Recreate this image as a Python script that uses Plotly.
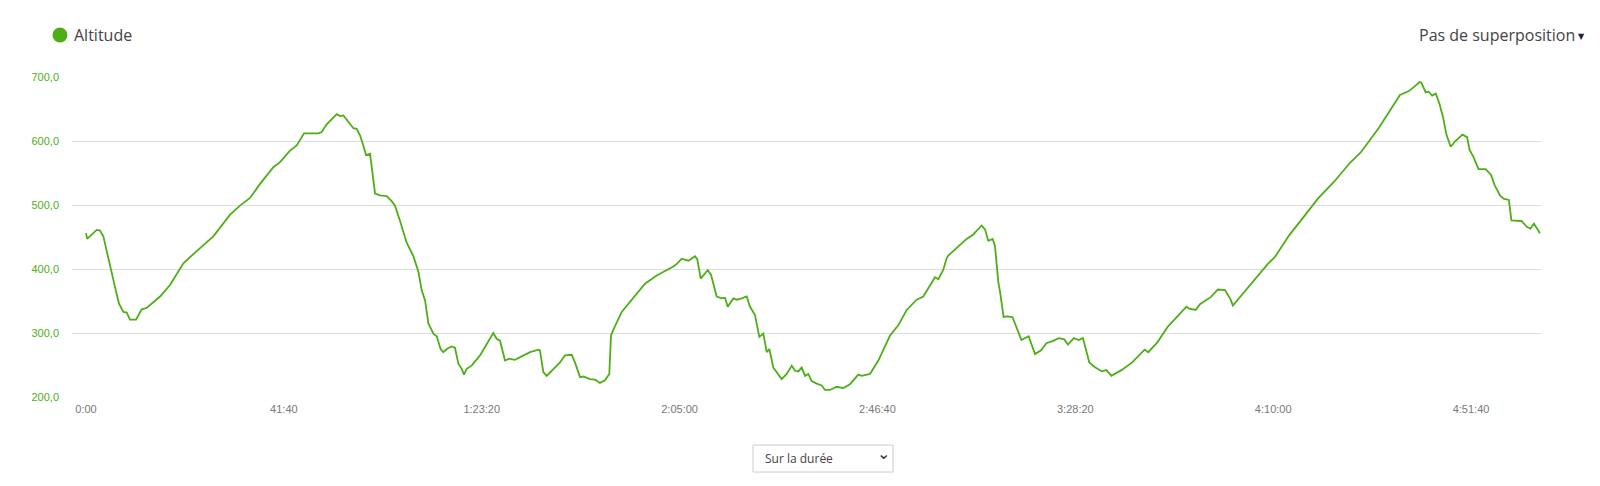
import plotly.graph_objects as go

# elapsed time (s) and altitude (m)
time_s = [
    0, 15, 135, 177, 219, 303, 366, 417, 472, 514, 556, 632, 703, 766, 935, 1061,
    1230, 1398, 1609, 1820, 1946, 2072, 2199, 2367, 2451, 2578, 2662, 2755, 2936,
    2978, 3041, 3168, 3210, 3252, 3336, 3378, 3420, 3462, 3504, 3538, 3589, 3610,
    3652, 3715, 3799, 3862, 3904, 3968, 4052, 4136, 4199, 4241, 4284, 4326, 4389,
    4431, 4481, 4515, 4557, 4620, 4662, 4705, 4747, 4776, 4810, 4873, 4978, 5146,
    5188, 5231, 5294, 5348, 5420,
    5610, 5715, 5736, 5778, 5821, 5904, 5989, 6052, 6137, 6178, 6242, 6283, 6368,
    6431, 6494, 6557, 6612, 6633, 6662, 6769, 6915, 7063, 7211, 7337, 7421, 7464,
    7527, 7611, 7695, 7724, 7767, 7855, 7897, 7969, 8032, 8074, 8108, 8179, 8222,
    8285, 8348, 8390, 8453, 8507, 8558, 8601, 8634, 8684, 8790, 8853, 8917, 8958,
    9000, 9043, 9085, 9126, 9169, 9232, 9296, 9337, 9400, 9485, 9568, 9653, 9758,
    9801, 9906, 10011, 10159, 10263, 10369, 10496, 10579, 10727, 10769, 10832,
    10875, 10895, 11021, 11127, 11211, 11317, 11359, 11400, 11456, 11485, 11527,
    11548,
    11594, 11638, 11706, 11752, 11819, 11910, 11991, 12067, 12135, 12226, 12293,
    12361, 12407, 12482, 12542, 12596, 12677, 12744, 12835, 12893, 12956, 13083,
    13218, 13376, 13421, 13534, 13670, 13904, 13940, 14021, 14075, 14211, 14302,
    14391, 14460, 14491, 14707, 14933, 15023, 15204, 15339, 15565, 15767, 15971,
    16106, 16332, 16602, 16715, 16783, 16850, 16873, 16927, 16964, 17008, 17054,
    17099, 17145, 17189, 17243, 17302, 17392, 17450, 17482, 17527, 17595, 17685,
    17753, 17798, 17866, 17911, 17978, 18010, 18137, 18205, 18250, 18294, 18340,
    18370,
]
altitude_m = [
    456, 447, 461, 460, 451, 404, 372, 346, 333, 332, 321, 321, 337, 339, 357, 375,
    409, 428, 451, 485, 499, 511, 533, 559, 567, 585, 593, 612, 612,
    614, 626, 642, 639, 640, 626, 620, 619, 609, 593, 578, 580, 562,
    518, 515, 514, 506, 499, 475, 441, 420, 396, 367, 351, 315, 299,
    295, 275, 270, 275, 279, 277, 252, 244, 235, 244, 249, 265, 300,
    291, 288, 257, 260, 258,
    270, 274, 273, 239, 233, 244, 254, 265, 266, 254, 231, 232, 228,
    227, 222, 226, 236, 296, 305, 333, 354, 377, 390, 398, 404, 408,
    416, 413, 420, 415, 385, 398, 391, 357, 354, 355, 341, 354, 352,
    354, 357, 341, 328, 294, 299, 270, 275, 246, 228, 236, 249, 241,
    240, 246, 233, 236, 225, 221, 218, 211, 211, 216, 214, 220, 235,
    233, 236, 257, 296, 312, 336, 352, 357, 387, 384, 399,
    417, 421, 436, 447, 454, 468, 462, 444, 447, 436, 380,
    365,
    325, 326, 325, 309, 289, 295, 267, 273, 284, 288, 292,
    290, 282, 292, 289, 292, 254, 247, 240, 242, 233, 242,
    254, 274, 270, 285, 310, 341, 338, 336, 345, 356, 368,
    367, 353, 343, 374, 408, 419, 453, 474, 510, 536, 566,
    582, 620, 672, 678, 685, 692, 691, 676, 677, 671, 674,
    659, 638, 610, 591, 600, 610, 606, 586, 576, 556, 556,
    547, 531, 515, 510, 508, 476, 475, 466, 463, 471, 462,
    456,
]

tick_vals = [0, 2500, 5000, 7500, 10000, 12500, 15000, 17500]
tick_text = ["0:00", "41:40", "1:23:20", "2:05:00", "2:46:40", "3:28:20", "4:10:00", "4:51:40"]

GREEN = "#4eae18"

fig = go.Figure(go.Scatter(
    x=time_s, y=altitude_m, mode="lines",
    line=dict(color=GREEN, width=1.8),
    hoverinfo="skip", showlegend=False,
))

# the page body adds an 8px margin, so the figure is a bit smaller than the window
fig.update_layout(
    width=1584, height=470,
    margin=dict(l=64, r=51, t=69, b=81),
    paper_bgcolor="white", plot_bgcolor="white",
    separators=", ",
    font=dict(family="Liberation Sans, Arial", size=11),
)
fig.update_xaxes(
    range=[-177, 18384], tickvals=tick_vals, ticktext=tick_text,
    showgrid=False, zeroline=False, showline=False, ticks="",
    tickfont=dict(color="#777777", size=11), ticklabelstandoff=4,
)
fig.update_yaxes(
    range=[200, 700], dtick=100, tick0=200, tickformat=".1f",
    showgrid=True, gridcolor="#dedede", gridwidth=1,
    zeroline=False, showline=False, ticks="",
    tickfont=dict(color=GREEN, size=11), ticklabelstandoff=12,
)

# legend-like header
fig.add_shape(type="circle", xref="paper", yref="paper",
              x0=-0.0133, x1=-0.0031, y0=1.1078, y1=1.1547,
              fillcolor=GREEN, line=dict(width=0))
fig.add_annotation(text="Altitude", xref="paper", yref="paper", x=0.0, y=1.131,
                   xanchor="left", yanchor="middle", showarrow=False,
                   font=dict(family="Open Sans", size=16, color="#444444"))
fig.add_annotation(text="Pas de superposition", xref="paper", yref="paper",
                   x=1.0 + (1577 - 1541) / 1469, y=1.131,
                   xanchor="right", yanchor="middle", showarrow=False,
                   font=dict(family="Open Sans", size=16, color="#444444"))
fig.add_annotation(text="▼", xref="paper", yref="paper",
                   x=1.0 + (1582 - 1541) / 1469, y=1.128,
                   xanchor="center", yanchor="middle", showarrow=False,
                   font=dict(family="DejaVu Sans", size=8, color="#222222"))

# dropdown box below the chart
fig.add_shape(type="rect", xref="paper", yref="paper",
              x0=0.4636, x1=0.5589, y0=-0.2344, y1=-0.15,
              fillcolor="white", line=dict(color="#cccccc", width=1))
fig.add_annotation(text="Sur la durée", xref="paper", yref="paper", x=0.4705, y=-0.1922,
                   xanchor="left", yanchor="middle", showarrow=False,
                   font=dict(family="Open Sans", size=12, color="#444444"))
fig.add_annotation(text="⌄", xref="paper", yref="paper", x=0.5527, y=-0.178,
                   xanchor="center", yanchor="middle", showarrow=False,
                   font=dict(family="DejaVu Sans", size=16, color="#333333"))

fig.write_html("out.html")
